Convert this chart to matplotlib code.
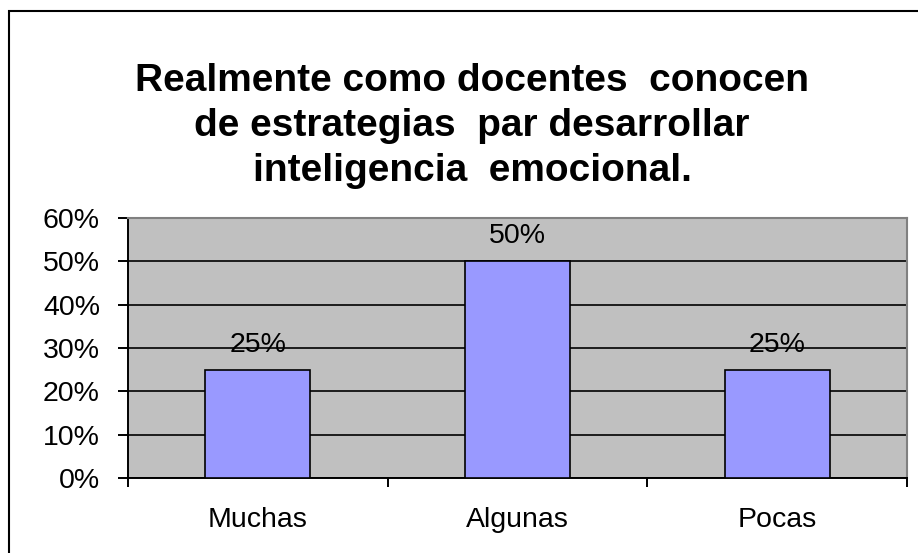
import matplotlib
matplotlib.use('Agg')
import matplotlib.pyplot as plt
import matplotlib.patches as mpatches
import numpy as np

plt.rcParams['font.family'] = ['Liberation Sans', 'DejaVu Sans']

categories = ['Muchas', 'Algunas', 'Pocas']
values = [0.25, 0.50, 0.25]
yticks = [0.0, 0.1, 0.2, 0.3, 0.4, 0.5, 0.6]
title = 'Realmente como docentes  conocen\nde estrategias  par desarrollar\ninteligencia  emocional.'

W, H = 918, 553
fig = plt.figure(figsize=(W / 100, H / 100), dpi=100)

# outer chart border (cropped at right/bottom as in the original)
fig.patches.append(mpatches.Rectangle((9 / W, -0.05), 1.2, (H - 11) / H + 0.05,
                                      transform=fig.transFigure, fill=False,
                                      edgecolor='black', linewidth=1.5))

ax = fig.add_axes([128 / W, (H - 478) / H, 779 / W, 260 / H])
ax.set_facecolor('#C0C0C0')

x = np.arange(len(categories)) + 0.5
ax.bar(x, values, width=0.404, color='#9999FF', edgecolor='black',
       linewidth=1.2, zorder=3)
for xi, v in zip(x, values):
    ax.annotate(f'{v:.0%}', xy=(xi, v), xytext=(0, 13), textcoords='offset points',
                ha='center', va='baseline', fontsize=20.5, zorder=4)

ax.set_xlim(0, 3)
ax.set_ylim(0, 0.6)
ax.set_yticks(yticks)
ax.set_yticklabels([f'{t:.0%}' for t in yticks], fontsize=20.5)
ax.yaxis.grid(True, color='black', linewidth=1.2, zorder=1)
ax.set_axisbelow(True)

ax.set_xticks([0, 1, 2, 3])
ax.set_xticklabels([])
ax.set_xticks(x, minor=True)
ax.set_xticklabels(categories, minor=True, fontsize=20.5)
ax.tick_params(axis='x', which='major', direction='out', length=6.5, width=1.4)
ax.tick_params(axis='x', which='minor', length=0, pad=21)
ax.tick_params(axis='y', direction='out', length=7.2, width=1.4, pad=13)

for s in ['left', 'bottom']:
    ax.spines[s].set_color('black')
    ax.spines[s].set_linewidth(1.4)
for s in ['top', 'right']:
    ax.spines[s].set_color('#808080')
    ax.spines[s].set_linewidth(1.5)

fig.text(472 / W, 1 - 126 / H, title, ha='center', va='center',
         fontsize=28, fontweight='bold', linespacing=1.32)

fig.savefig('out.png', dpi=100)
